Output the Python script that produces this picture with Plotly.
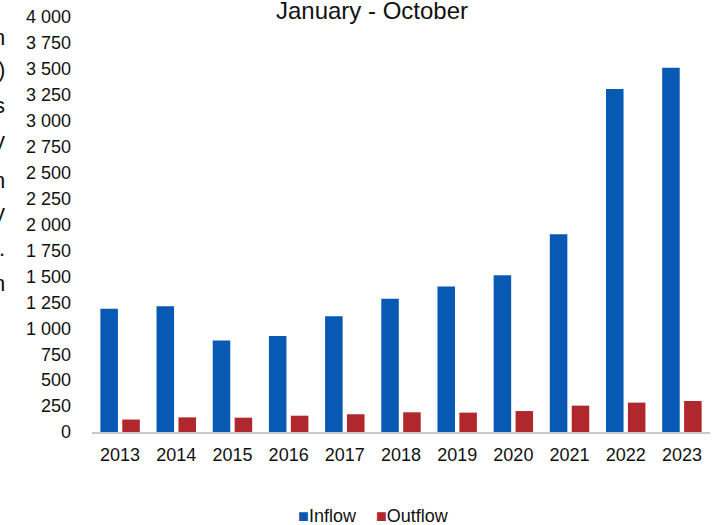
import plotly.graph_objects as go

years = ["2013", "2014", "2015", "2016", "2017", "2018",
         "2019", "2020", "2021", "2022", "2023"]
inflow = [1188, 1213, 882, 926, 1115, 1285, 1402, 1510, 1905, 3306, 3511]
outflow = [120, 141, 138, 157, 171, 190, 187, 202, 254, 283, 299]

y_ticks = list(range(0, 4001, 250))

# cut-off text fragments at the left edge of the original image
edge_bits = ["n", ")", "s", "y", "n", "y", ".", "n"]
edge_rows = [37, 70, 105, 140, 180, 213, 248, 283]

colors = {"Inflow": "#0759B4", "Outflow": "#B0282E"}
font = "Liberation Sans, Arial, sans-serif"

W, H = 716, 525
L, R, T, B = 92, 6, 17, 93
pw, ph = W - L - R, H - T - B

fig = go.Figure()
fig.add_trace(go.Bar(x=years, y=inflow, name="Inflow",
                     marker=dict(color=colors["Inflow"], line=dict(width=0))))
fig.add_trace(go.Bar(x=years, y=outflow, name="Outflow",
                     marker=dict(color=colors["Outflow"], line=dict(width=0))))

fig.update_layout(
    width=W, height=H,
    margin=dict(l=L, r=R, t=T, b=B, autoexpand=False),
    paper_bgcolor="white", plot_bgcolor="white",
    font=dict(family=font, size=18, color="#111111"),
    separators=", ",
    barmode="group", bargap=0.22, bargroupgap=0.2,
    title=dict(text="January - October", x=372 / W, xanchor="center",
               y=1 - 11 / H, yanchor="middle", xref="container", yref="container",
               font=dict(size=24, color="#111111")),
    showlegend=False,
)
fig.update_xaxes(showline=True, linecolor="#C8C8C8", linewidth=2,
                 ticks="", showgrid=False, ticklabelstandoff=5,
                 automargin=False)
fig.update_yaxes(range=[0, 4000], tickvals=y_ticks, tickformat=",d",
                 showgrid=False, zeroline=False, showline=False,
                 ticks="", ticklabelstandoff=20, automargin=False)

# legend drawn as text so the swatch sits right next to the label
legend_text = "    ".join(
    f'<span style="color:{c}">■</span>{n}' for n, c in colors.items()
)
fig.add_annotation(text=legend_text, xref="paper", yref="paper",
                   x=(373 - L) / pw, y=-(516 - T - ph) / ph,
                   xanchor="center", yanchor="middle", showarrow=False,
                   font=dict(size=18, color="#111111"))

for t, row in zip(edge_bits, edge_rows):
    fig.add_annotation(text=t, xref="paper", yref="paper",
                       x=(7 - L) / pw, y=1 - (row - T) / ph,
                       xanchor="right", yanchor="middle", showarrow=False,
                       font=dict(size=22, color="#111111"))

fig.write_html("out.html", config={"displayModeBar": False},
               post_script="document.body.style.margin='0';")
